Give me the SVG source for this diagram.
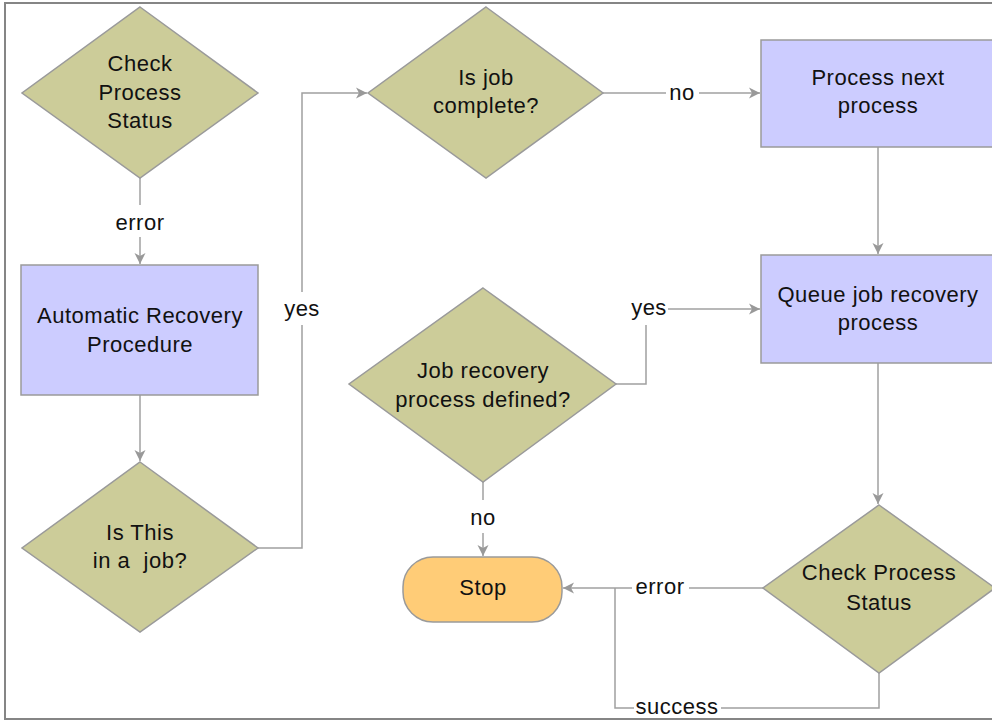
<svg xmlns="http://www.w3.org/2000/svg" width="992" height="721" viewBox="0 0 992 721">
<style>
.dia{fill:#CCCC99;stroke:#9a9a9a;stroke-width:1.5}
.box{fill:#CCCCFF;stroke:#9a9a9a;stroke-width:1.5}
.stop{fill:#FFCC77;stroke:#9a9a9a;stroke-width:1.5}
.t{font-family:"Liberation Sans",Arial,sans-serif;font-size:22px;letter-spacing:0.5px;fill:#111;text-anchor:middle}
.c{fill:none;stroke:#a0a0a0;stroke-width:1.5}
</style>
<defs>
<marker id="arr" markerUnits="userSpaceOnUse" markerWidth="12" markerHeight="12" viewBox="0 0 12 12" refX="11" refY="6" orient="auto">
<path d="M0,0.5 L11,6 L0,11.5 L3,6 z" fill="#999"/>
</marker>
</defs>
<rect x="5" y="3" width="1000" height="716" fill="#fff" stroke="#858585" stroke-width="2"/>

<g id="connectors">
<path class="c" d="M140,178 V205"/>
<path class="c" d="M140,237 V264" marker-end="url(#arr)"/>
<text class="t" x="140" y="230">error</text>
<path class="c" d="M140,395 V461" marker-end="url(#arr)"/>
<path class="c" d="M258,548 H302 V325"/>
<path class="c" d="M302,292 V93 H367" marker-end="url(#arr)"/>
<text class="t" x="302" y="316">yes</text>
<path class="c" d="M603,93 H666"/>
<path class="c" d="M699,93 H760" marker-end="url(#arr)"/>
<text class="t" x="682" y="100">no</text>
<path class="c" d="M878,147 V254" marker-end="url(#arr)"/>
<path class="c" d="M616,384 H646 V325"/>
<path class="c" d="M668,309 H760" marker-end="url(#arr)"/>
<text class="t" x="649" y="315">yes</text>
<path class="c" d="M483,482 V500"/>
<path class="c" d="M483,533 V556" marker-end="url(#arr)"/>
<text class="t" x="483" y="525">no</text>
<path class="c" d="M878,363 V504" marker-end="url(#arr)"/>
<path class="c" d="M763,588 H689"/>
<path class="c" d="M632,588 H563" marker-end="url(#arr)"/>
<text class="t" x="660" y="594">error</text>
<path class="c" d="M879,673 V708 H721"/>
<path class="c" d="M634,708 H615 V588"/>
<text class="t" x="677" y="714">success</text>
</g>

<g id="n1">
<polygon class="dia" points="140,7 258,93 140,178 22,93"/>
<text class="t" x="140" y="71">Check</text>
<text class="t" x="140" y="100">Process</text>
<text class="t" x="140" y="128">Status</text>
</g>
<g id="n2">
<rect class="box" x="21" y="265" width="237" height="130"/>
<text class="t" x="140" y="323">Automatic Recovery</text>
<text class="t" x="140" y="352">Procedure</text>
</g>
<g id="n3">
<polygon class="dia" points="140,462 258,548 140,632 22,548"/>
<text class="t" x="140" y="540">Is This</text>
<text class="t" x="140" y="568" xml:space="preserve">in a  job?</text>
</g>
<g id="n4">
<polygon class="dia" points="486,7 603,93 486,178 368,93"/>
<text class="t" x="486" y="85">Is job</text>
<text class="t" x="486" y="113">complete?</text>
</g>
<g id="n5">
<rect class="box" x="761" y="40" width="240" height="107"/>
<text class="t" x="878" y="85">Process next</text>
<text class="t" x="878" y="113">process</text>
</g>
<g id="n6">
<rect class="box" x="761" y="255" width="240" height="108"/>
<text class="t" x="878" y="302">Queue job recovery</text>
<text class="t" x="878" y="330">process</text>
</g>
<g id="n7">
<polygon class="dia" points="483,288 616,384 483,482 349,384"/>
<text class="t" x="483" y="378">Job recovery</text>
<text class="t" x="483" y="407">process defined?</text>
</g>
<g id="n8">
<rect class="stop" x="403" y="557" width="159" height="65" rx="30" ry="30"/>
<text class="t" x="483" y="595">Stop</text>
</g>
<g id="n9">
<polygon class="dia" points="879,505 995,588 879,673 763,588"/>
<text class="t" x="879" y="580">Check Process</text>
<text class="t" x="879" y="610">Status</text>
</g>
</svg>
